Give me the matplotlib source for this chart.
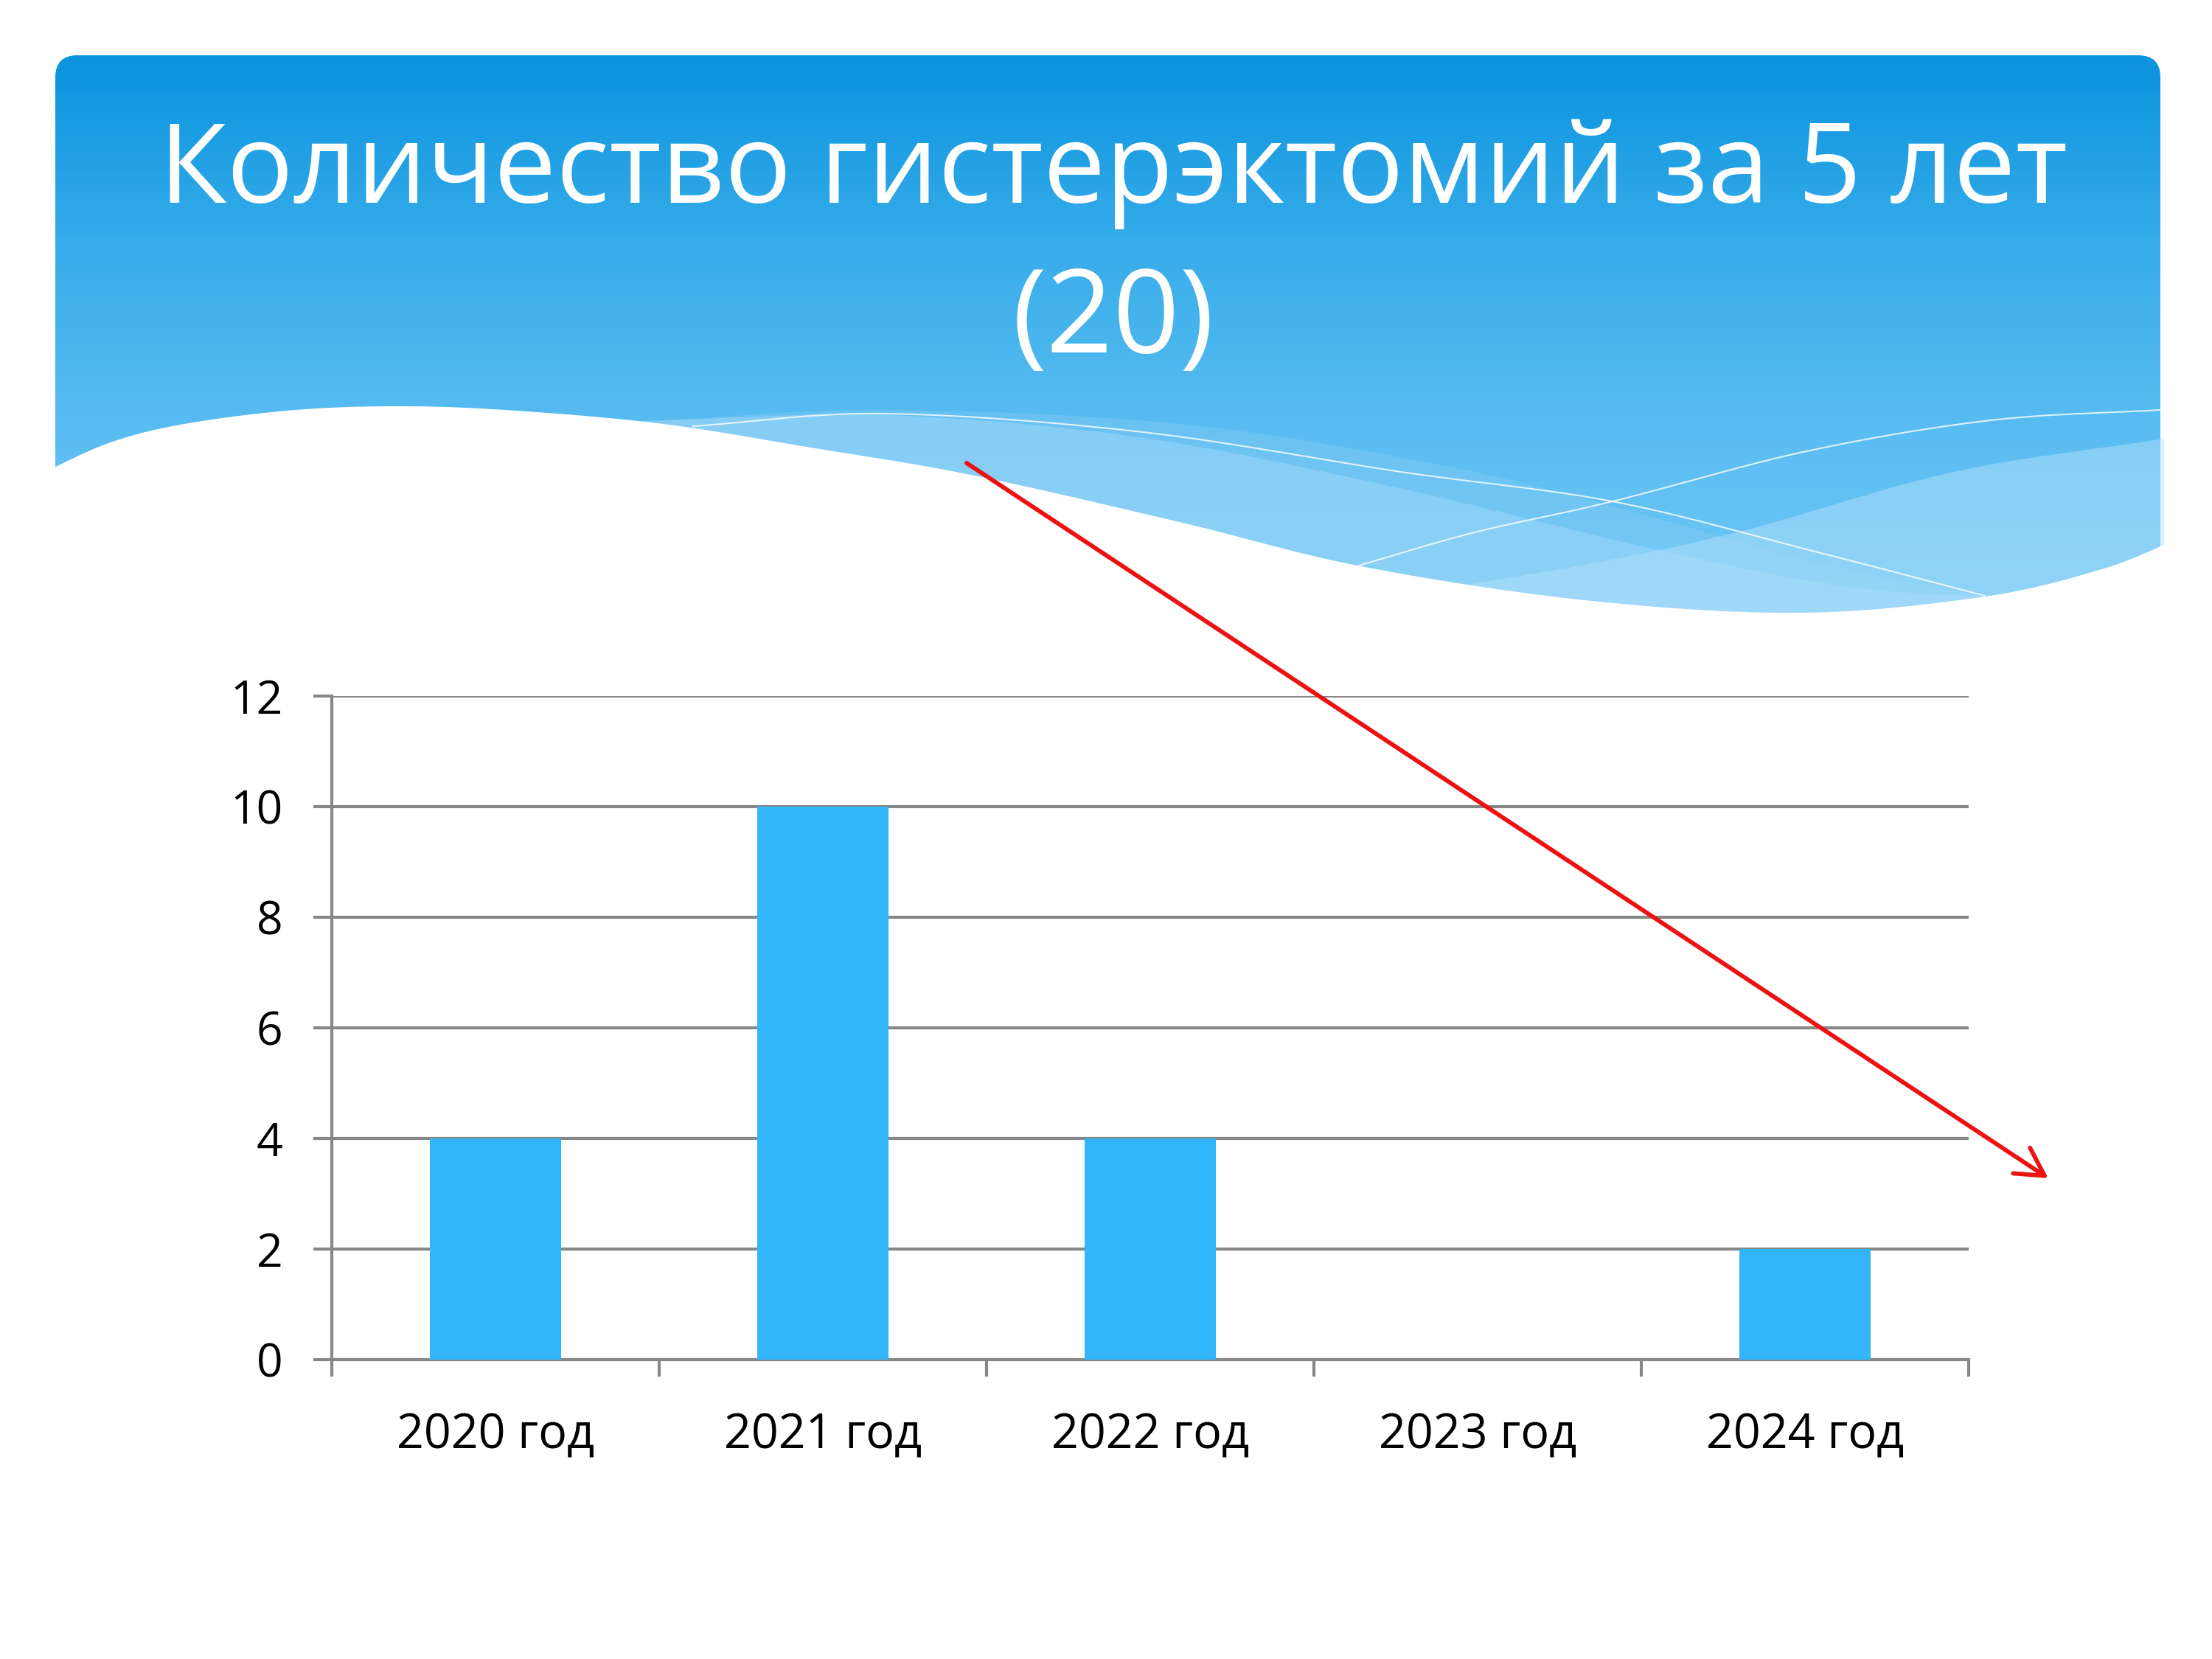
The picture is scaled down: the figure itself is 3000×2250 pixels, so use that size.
import matplotlib
matplotlib.use("Agg")
import matplotlib.pyplot as plt
import numpy as np
from matplotlib.patches import FancyBboxPatch, Polygon, FancyArrowPatch
from matplotlib.colors import LinearSegmentedColormap

plt.rcParams['font.family'] = ['Open Sans', 'DejaVu Sans']

# chart data
years = ['2020 год', '2021 год', '2022 год', '2023 год', '2024 год']
counts = [4, 10, 4, 0, 2]
title_line1 = 'Количество гистерэктомий за 5 лет'
title_line2 = '(20)'

W, H = 3000, 2250
fig = plt.figure(figsize=(10, 7.5), dpi=300)

# background layer in pixel coords (y grows downward)
bg = fig.add_axes([0, 0, 1, 1], zorder=0)
bg.set_xlim(0, W)
bg.set_ylim(H, 0)
bg.axis('off')


def spline(pts, n=40):
    # catmull-rom through given points
    p = np.array(pts, dtype=float)
    p = np.vstack([p[0] - (p[1] - p[0]), p, p[-1] + (p[-1] - p[-2])])
    out = []
    t = np.linspace(0, 1, n, endpoint=False)[:, None]
    for i in range(1, len(p) - 2):
        p0, p1, p2, p3 = p[i - 1], p[i], p[i + 1], p[i + 2]
        seg = 0.5 * ((2 * p1) + (-p0 + p2) * t + (2 * p0 - 5 * p1 + 4 * p2 - p3) * t ** 2
                     + (-p0 + 3 * p1 - 3 * p2 + p3) * t ** 3)
        out.append(seg)
    out.append(p[-2][None, :])
    return np.vstack(out)


# header with vertical gradient
x0, x1, y0, y1 = 75, 2930, 75, 900
header = FancyBboxPatch((x0, y0), x1 - x0, y1 - y0,
                        boxstyle='round,pad=0,rounding_size=30',
                        fc='none', ec='none', transform=bg.transData)
bg.add_patch(header)
cmap = LinearSegmentedColormap.from_list('hdr', ['#0a93df', '#3aaeea', '#5fbff2', '#74c9f6'])
grad = np.linspace(0, 1, 256)[:, None]
im = bg.imshow(grad, cmap=cmap, extent=(x0, x1, y1, y0), aspect='auto', zorder=1)
im.set_clip_path(header)

# white wave boundary
wave = spline([(60, 640), (150, 600), (250, 575), (400, 556), (548, 551), (700, 557),
               (900, 575), (1100, 607), (1317, 644), (1600, 708), (1846, 768),
               (2150, 814), (2442, 831), (2692, 809), (2850, 772), (2945, 735)])

# translucent light bands
bandA_top = spline([(870, 571), (1200, 563), (1544, 593), (1889, 660), (2245, 745),
                    (2500, 795), (2692, 809)])
bandA = np.vstack([bandA_top, wave[(wave[:, 0] > 870) & (wave[:, 0] < 2692)][::-1]])
bg.add_patch(Polygon(bandA, closed=True, fc='#a6dbf9', ec='none', alpha=0.55, zorder=2))

bandC_top = spline([(900, 570), (1200, 556), (1600, 575), (1950, 630), (2200, 690),
                    (2450, 760), (2692, 809)])
bandC = np.vstack([bandC_top, wave[(wave[:, 0] > 900) & (wave[:, 0] < 2692)][::-1]])
bg.add_patch(Polygon(bandC, closed=True, fc='#8ccff6', ec='none', alpha=0.35, zorder=2))

bandB_top = spline([(1950, 800), (2180, 760), (2371, 718), (2650, 640), (2935, 595)])
bandB = np.vstack([bandB_top, [[2935, 740]],
                   wave[(wave[:, 0] > 1950) & (wave[:, 0] < 2935)][::-1]])
bg.add_patch(Polygon(bandB, closed=True, fc='#b2e0fa', ec='none', alpha=0.5, zorder=2))

# thin white lines
line1 = spline([(940, 578), (1200, 561), (1550, 586), (1900, 640), (2187, 680),
                (2450, 745), (2692, 808)])
line2 = spline([(1843, 767), (2000, 722), (2187, 680), (2450, 612), (2700, 570), (2930, 556)])
bg.plot(line1[:, 0], line1[:, 1], color='white', lw=0.5, alpha=0.8, zorder=3)
bg.plot(line2[:, 0], line2[:, 1], color='white', lw=0.5, alpha=0.8, zorder=3)

# white area under the wave
white = np.vstack([wave, [[2950, 1000], [50, 1000]]])
bg.add_patch(Polygon(white, closed=True, fc='white', ec='none', zorder=4))

# title
bg.text(1510, 275, title_line1, color='white', fontsize=36, ha='center', va='baseline', zorder=5)
bg.text(1510, 478, title_line2, color='white', fontsize=38, ha='center', va='baseline', zorder=5)

# bar chart
ax = fig.add_axes([0.15, 0.1804, 0.74, 0.40], zorder=2)
ax.patch.set_alpha(0)
xpos = np.arange(len(years))
ax.bar(xpos, counts, width=0.4, color='#33b5fa', zorder=3)
ax.set_xlim(-0.5, len(years) - 0.5)
ax.set_ylim(0, 12)
ax.set_yticks(range(0, 13, 2))
ax.yaxis.grid(True, color='#878787', lw=1.0)
ax.set_axisbelow(True)
for s in ['top', 'right']:
    ax.spines[s].set_visible(False)
for s in ['left', 'bottom']:
    ax.spines[s].set_color('#878787')
    ax.spines[s].set_linewidth(1.0)
ax.set_xticks(np.arange(-0.5, len(years), 1.0))
ax.set_xticklabels([])
ax.set_xticks(xpos, minor=True)
ax.set_xticklabels(years, minor=True)
ax.tick_params(axis='x', which='major', length=5.5, width=1.0, color='#878787', direction='out')
ax.tick_params(axis='x', which='minor', length=0, pad=17, labelsize=15.5)
ax.tick_params(axis='y', length=6, width=1.0, color='#878787', direction='out', pad=10, labelsize=15)

# overlay for the trend arrow
ov = fig.add_axes([0, 0, 1, 1], zorder=5)
ov.set_xlim(0, W)
ov.set_ylim(H, 0)
ov.axis('off')
ov.patch.set_alpha(0)
ov.add_patch(FancyArrowPatch((1311, 628), (2778, 1598), arrowstyle='->,head_length=9,head_width=5',
                             color='#ee1111', lw=1.4, shrinkA=0, shrinkB=0, mutation_scale=1))

fig.savefig('out.png', dpi=300)
